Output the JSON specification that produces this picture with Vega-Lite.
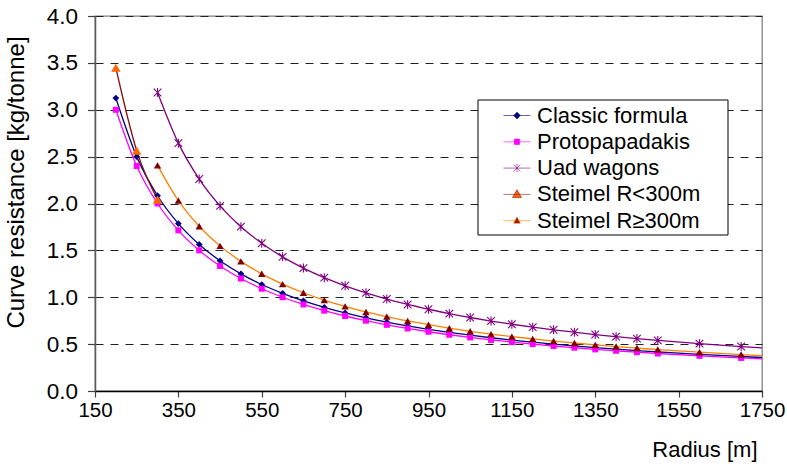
{
  "$schema": "https://vega.github.io/schema/vega-lite/v6.json",
  "width": 667,
  "height": 375,
  "autosize": {"type": "none"},
  "padding": {"left": 95, "top": 16, "right": 25, "bottom": 78},
  "background": "white",
  "config": {
    "font": "Liberation Sans",
    "view": {"stroke": "#808080", "strokeWidth": 1.3}
  },
  "data": {
    "values": [
      {"series": "Classic formula", "R": 200, "v": 3.125},
      {"series": "Classic formula", "R": 250, "v": 2.5},
      {"series": "Classic formula", "R": 300, "v": 2.083},
      {"series": "Classic formula", "R": 350, "v": 1.786},
      {"series": "Classic formula", "R": 400, "v": 1.563},
      {"series": "Classic formula", "R": 450, "v": 1.389},
      {"series": "Classic formula", "R": 500, "v": 1.25},
      {"series": "Classic formula", "R": 550, "v": 1.136},
      {"series": "Classic formula", "R": 600, "v": 1.042},
      {"series": "Classic formula", "R": 650, "v": 0.962},
      {"series": "Classic formula", "R": 700, "v": 0.893},
      {"series": "Classic formula", "R": 750, "v": 0.833},
      {"series": "Classic formula", "R": 800, "v": 0.781},
      {"series": "Classic formula", "R": 850, "v": 0.735},
      {"series": "Classic formula", "R": 900, "v": 0.694},
      {"series": "Classic formula", "R": 950, "v": 0.658},
      {"series": "Classic formula", "R": 1000, "v": 0.625},
      {"series": "Classic formula", "R": 1050, "v": 0.595},
      {"series": "Classic formula", "R": 1100, "v": 0.568},
      {"series": "Classic formula", "R": 1150, "v": 0.543},
      {"series": "Classic formula", "R": 1200, "v": 0.521},
      {"series": "Classic formula", "R": 1250, "v": 0.5},
      {"series": "Classic formula", "R": 1300, "v": 0.481},
      {"series": "Classic formula", "R": 1350, "v": 0.463},
      {"series": "Classic formula", "R": 1400, "v": 0.446},
      {"series": "Classic formula", "R": 1450, "v": 0.431},
      {"series": "Classic formula", "R": 1500, "v": 0.417},
      {"series": "Classic formula", "R": 1600, "v": 0.391},
      {"series": "Classic formula", "R": 1700, "v": 0.368},
      {"series": "Classic formula", "R": 1800, "v": 0.347},
      {"series": "Protopapadakis", "R": 200, "v": 3.0},
      {"series": "Protopapadakis", "R": 250, "v": 2.4},
      {"series": "Protopapadakis", "R": 300, "v": 2.0},
      {"series": "Protopapadakis", "R": 350, "v": 1.714},
      {"series": "Protopapadakis", "R": 400, "v": 1.5},
      {"series": "Protopapadakis", "R": 450, "v": 1.333},
      {"series": "Protopapadakis", "R": 500, "v": 1.2},
      {"series": "Protopapadakis", "R": 550, "v": 1.091},
      {"series": "Protopapadakis", "R": 600, "v": 1.0},
      {"series": "Protopapadakis", "R": 650, "v": 0.923},
      {"series": "Protopapadakis", "R": 700, "v": 0.857},
      {"series": "Protopapadakis", "R": 750, "v": 0.8},
      {"series": "Protopapadakis", "R": 800, "v": 0.75},
      {"series": "Protopapadakis", "R": 850, "v": 0.706},
      {"series": "Protopapadakis", "R": 900, "v": 0.667},
      {"series": "Protopapadakis", "R": 950, "v": 0.632},
      {"series": "Protopapadakis", "R": 1000, "v": 0.6},
      {"series": "Protopapadakis", "R": 1050, "v": 0.571},
      {"series": "Protopapadakis", "R": 1100, "v": 0.545},
      {"series": "Protopapadakis", "R": 1150, "v": 0.522},
      {"series": "Protopapadakis", "R": 1200, "v": 0.5},
      {"series": "Protopapadakis", "R": 1250, "v": 0.48},
      {"series": "Protopapadakis", "R": 1300, "v": 0.462},
      {"series": "Protopapadakis", "R": 1350, "v": 0.444},
      {"series": "Protopapadakis", "R": 1400, "v": 0.429},
      {"series": "Protopapadakis", "R": 1450, "v": 0.414},
      {"series": "Protopapadakis", "R": 1500, "v": 0.4},
      {"series": "Protopapadakis", "R": 1600, "v": 0.375},
      {"series": "Protopapadakis", "R": 1700, "v": 0.353},
      {"series": "Protopapadakis", "R": 1800, "v": 0.333},
      {"series": "Uad wagons", "R": 300, "v": 3.184},
      {"series": "Uad wagons", "R": 350, "v": 2.644},
      {"series": "Uad wagons", "R": 400, "v": 2.261},
      {"series": "Uad wagons", "R": 450, "v": 1.975},
      {"series": "Uad wagons", "R": 500, "v": 1.753},
      {"series": "Uad wagons", "R": 550, "v": 1.576},
      {"series": "Uad wagons", "R": 600, "v": 1.431},
      {"series": "Uad wagons", "R": 650, "v": 1.311},
      {"series": "Uad wagons", "R": 700, "v": 1.209},
      {"series": "Uad wagons", "R": 750, "v": 1.122},
      {"series": "Uad wagons", "R": 800, "v": 1.047},
      {"series": "Uad wagons", "R": 850, "v": 0.981},
      {"series": "Uad wagons", "R": 900, "v": 0.923},
      {"series": "Uad wagons", "R": 950, "v": 0.872},
      {"series": "Uad wagons", "R": 1000, "v": 0.825},
      {"series": "Uad wagons", "R": 1050, "v": 0.784},
      {"series": "Uad wagons", "R": 1100, "v": 0.746},
      {"series": "Uad wagons", "R": 1150, "v": 0.712},
      {"series": "Uad wagons", "R": 1200, "v": 0.681},
      {"series": "Uad wagons", "R": 1250, "v": 0.653},
      {"series": "Uad wagons", "R": 1300, "v": 0.627},
      {"series": "Uad wagons", "R": 1350, "v": 0.602},
      {"series": "Uad wagons", "R": 1400, "v": 0.58},
      {"series": "Uad wagons", "R": 1450, "v": 0.559},
      {"series": "Uad wagons", "R": 1500, "v": 0.54},
      {"series": "Uad wagons", "R": 1600, "v": 0.505},
      {"series": "Uad wagons", "R": 1700, "v": 0.474},
      {"series": "Uad wagons", "R": 1800, "v": 0.447},
      {"series": "Steimel R<300m", "R": 200, "v": 3.448},
      {"series": "Steimel R<300m", "R": 250, "v": 2.564},
      {"series": "Steimel R<300m", "R": 300, "v": 2.041},
      {"series": "Steimel R≥300m", "R": 300, "v": 2.407},
      {"series": "Steimel R≥300m", "R": 350, "v": 2.031},
      {"series": "Steimel R≥300m", "R": 400, "v": 1.757},
      {"series": "Steimel R≥300m", "R": 450, "v": 1.548},
      {"series": "Steimel R≥300m", "R": 500, "v": 1.383},
      {"series": "Steimel R≥300m", "R": 550, "v": 1.25},
      {"series": "Steimel R≥300m", "R": 600, "v": 1.14},
      {"series": "Steimel R≥300m", "R": 650, "v": 1.048},
      {"series": "Steimel R≥300m", "R": 700, "v": 0.97},
      {"series": "Steimel R≥300m", "R": 750, "v": 0.903},
      {"series": "Steimel R≥300m", "R": 800, "v": 0.843},
      {"series": "Steimel R≥300m", "R": 850, "v": 0.793},
      {"series": "Steimel R≥300m", "R": 900, "v": 0.747},
      {"series": "Steimel R≥300m", "R": 950, "v": 0.707},
      {"series": "Steimel R≥300m", "R": 1000, "v": 0.67},
      {"series": "Steimel R≥300m", "R": 1050, "v": 0.637},
      {"series": "Steimel R≥300m", "R": 1100, "v": 0.607},
      {"series": "Steimel R≥300m", "R": 1150, "v": 0.58},
      {"series": "Steimel R≥300m", "R": 1200, "v": 0.556},
      {"series": "Steimel R≥300m", "R": 1250, "v": 0.533},
      {"series": "Steimel R≥300m", "R": 1300, "v": 0.512},
      {"series": "Steimel R≥300m", "R": 1350, "v": 0.492},
      {"series": "Steimel R≥300m", "R": 1400, "v": 0.474},
      {"series": "Steimel R≥300m", "R": 1450, "v": 0.458},
      {"series": "Steimel R≥300m", "R": 1500, "v": 0.442},
      {"series": "Steimel R≥300m", "R": 1600, "v": 0.414},
      {"series": "Steimel R≥300m", "R": 1700, "v": 0.389},
      {"series": "Steimel R≥300m", "R": 1800, "v": 0.367}
    ]
  },
  "encoding": {
    "x": {
      "field": "R", "type": "quantitative",
      "scale": {"domain": [150, 1750], "nice": false, "zero": false},
      "axis": {
        "values": [150, 350, 550, 750, 950, 1150, 1350, 1550, 1750],
        "format": "d",
        "title": "Radius [m]",
        "grid": false,
        "domainColor": "#000000", "domainWidth": 1.3,
        "tickColor": "#404040", "tickSize": 6, "tickWidth": 1.2,
        "labelFontSize": 20.5, "labelColor": "#000000", "labelPadding": 3,
        "labelFlush": false, "labelOverlap": false,
        "titleFontSize": 22, "titleFontWeight": "normal", "titleColor": "#000000",
        "titleX": 662, "titleY": 58, "titleAlign": "right", "titleAnchor": null, "titleBaseline": "middle"
      }
    },
    "y": {
      "field": "v", "type": "quantitative",
      "scale": {"domain": [0, 4], "nice": false},
      "axis": {
        "values": [0, 0.5, 1, 1.5, 2, 2.5, 3, 3.5, 4],
        "format": ".1f",
        "title": "Curve resistance [kg/tonne]",
        "grid": true, "gridColor": "#222222", "gridDash": [8, 7], "gridWidth": 1.1,
        "domainColor": "#5a5a5a", "domainWidth": 1.5,
        "tickColor": "#404040", "tickSize": 7.5, "tickWidth": 1.2,
        "labelFontSize": 22.5, "labelColor": "#000000", "labelPadding": 10,
        "labelFlush": false, "labelOverlap": false,
        "titleFontSize": 24, "titleFontWeight": "normal", "titleColor": "#000000",
        "titleX": -79, "titleY": 166, "titleAngle": -90, "titleAlign": "center", "titleBaseline": "middle", "titleAnchor": null
      }
    }
  },
  "layer": [
    {
      "mark": {"type": "line", "interpolate": "monotone", "strokeWidth": 1.3, "clip": true},
      "encoding": {
        "stroke": {
          "field": "series", "type": "nominal",
          "scale": {
            "domain": ["Classic formula", "Protopapadakis", "Uad wagons", "Steimel R<300m", "Steimel R≥300m"],
            "range": ["#000080", "#ff00ff", "#800080", "#8b1010", "#ff8000"]
          },
          "legend": null
        }
      }
    },
    {
      "mark": {"type": "point", "filled": true, "opacity": 1, "clip": true, "strokeWidth": 0},
      "encoding": {
        "fill": {
          "field": "series", "type": "nominal",
          "scale": {
            "domain": ["Classic formula", "Protopapadakis", "Uad wagons", "Steimel R<300m", "Steimel R≥300m"],
            "range": ["#000080", "#ff00ff", "#800080", "#ff6600", "#800000"]
          },
          "legend": null
        },
        "shape": {
          "field": "series", "type": "nominal",
          "scale": {
            "domain": ["Classic formula", "Protopapadakis", "Uad wagons", "Steimel R<300m", "Steimel R≥300m"],
            "range": ["diamond", "square", "M-0.12,-1L0.12,-1L0.12,1L-0.12,1Z M-0.765,-0.935L0.935,0.765L0.765,0.935L-0.935,-0.765Z M-0.935,0.765L0.765,-0.935L0.935,-0.765L-0.765,0.935Z", "triangle-up", "triangle-up"]
          },
          "legend": null
        },
        "size": {
          "field": "series", "type": "nominal",
          "scale": {
            "type": "ordinal",
            "domain": ["Classic formula", "Protopapadakis", "Uad wagons", "Steimel R<300m", "Steimel R≥300m"],
            "range": [45, 36, 81, 90, 55]
          },
          "legend": null
        }
      }
    },
    {
      "transform": [{"filter": "false"}],
      "mark": {"type": "point", "filled": true, "opacity": 1, "strokeWidth": 0.6},
      "encoding": {
        "fill": {
          "field": "series", "type": "nominal",
          "scale": {
            "domain": ["Classic formula", "Protopapadakis", "Uad wagons", "Steimel R<300m", "Steimel R≥300m"],
            "range": ["#000080", "#ff00ff", "#800080", "#ff6600", "#800000"]
          },
          "legend": {
            "orient": "none", "legendX": 382.5, "legendY": 83.5,
            "title": "MM", "titleOrient": "right", "titleFontSize": 10, "titleColor": "#ffffff", "titlePadding": 8,
            "direction": "vertical",
            "symbolSize": 729, "symbolStrokeWidth": 0.6, "symbolOpacity": 1,
            "symbolOffset": 23.5, "labelOffset": 6,
            "labelFontSize": 22, "labelColor": "#000000", "labelFont": "Liberation Sans", "labelLimit": 0,
            "rowPadding": 1.3, "padding": 2,
            "strokeColor": "#000000", "fillColor": "#ffffff"
          }
        },
        "stroke": {
          "field": "series", "type": "nominal",
          "scale": {
            "domain": ["Classic formula", "Protopapadakis", "Uad wagons", "Steimel R<300m", "Steimel R≥300m"],
            "range": ["#000080", "#ff00ff", "#800080", "#8b1010", "#ff8000"]
          }
        },
        "shape": {
          "field": "series", "type": "nominal",
          "scale": {
            "domain": ["Classic formula", "Protopapadakis", "Uad wagons", "Steimel R<300m", "Steimel R≥300m"],
            "range": [
              "M-1,0H1M0,-0.25L0.25,0L0,0.25L-0.25,0Z",
              "M-1,0H1M-0.2,-0.2H0.2V0.2H-0.2Z",
              "M-1,0H1M-0.25,-0.25L0.25,0.25M-0.25,0.25L0.25,-0.25M0,-0.3V0.3",
              "M-1,0H1M0,-0.34L0.33,0.23H-0.33Z",
              "M-1,0H1M0,-0.27L0.25,0.18H-0.25Z"
            ]
          }
        }
      }
    }
  ],
  "resolve": {"scale": {"shape": "independent", "fill": "independent", "stroke": "independent", "size": "independent"}}
}
